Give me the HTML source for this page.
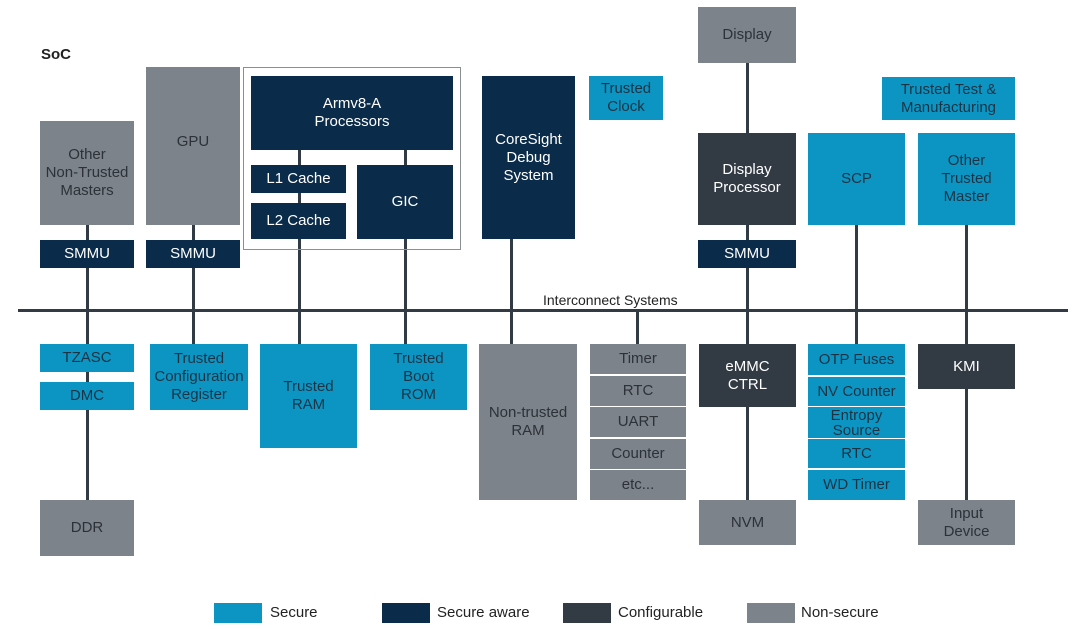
<!DOCTYPE html>
<html><head><meta charset="utf-8"><style>
body{margin:0;width:1074px;height:629px;background:#fff;position:relative;overflow:hidden;font-family:"Liberation Sans",sans-serif}
.b{position:absolute;display:flex;align-items:center;justify-content:center;text-align:center;font-size:15px;line-height:18px;box-sizing:border-box}
.s{background:#0c95c3;color:#1d3344}
.a{background:#0a2b49;color:#fff}
.c{background:#323a44;color:#fff}
.n{background:#7c838a;color:#2c3238}
.v{position:absolute;width:3px;background:#323a44}
.t{position:absolute;font-size:15px;color:#222}
</style></head><body>
<div class="t" style="left:41px;top:46px;font-weight:bold;font-size:15px">SoC</div>
<div class="v" style="left:86px;top:225px;height:275px"></div>
<div class="v" style="left:192px;top:225px;height:119px"></div>
<div class="v" style="left:298px;top:150px;height:194px"></div>
<div class="v" style="left:404px;top:150px;height:194px"></div>
<div class="v" style="left:510px;top:239px;height:105px"></div>
<div class="v" style="left:636px;top:311px;height:33px"></div>
<div class="v" style="left:746px;top:63px;height:437px"></div>
<div class="v" style="left:855px;top:225px;height:119px"></div>
<div class="v" style="left:965px;top:225px;height:275px"></div>
<div style="position:absolute;left:18px;top:309px;width:1050px;height:3px;background:#323a44"></div>
<div class="t" style="left:543px;top:292px;font-size:14px">Interconnect Systems</div>
<div class="b n" style="left:40px;top:121px;width:94px;height:104px">Other<br>Non-Trusted<br>Masters</div>
<div class="b a" style="left:40px;top:240px;width:94px;height:28px">SMMU</div>
<div class="b n" style="left:146px;top:67px;width:94px;height:158px;align-items:flex-start;padding-top:66px">GPU</div>
<div class="b a" style="left:146px;top:240px;width:94px;height:28px">SMMU</div>
<div style="position:absolute;left:243px;top:67px;width:218px;height:183px;border:1.5px solid #8a8f94;box-sizing:border-box"></div>
<div class="b a" style="left:251px;top:76px;width:202px;height:74px">Armv8-A<br>Processors</div>
<div class="b a" style="left:251px;top:165px;width:95px;height:28px">L1 Cache</div>
<div class="b a" style="left:251px;top:203px;width:95px;height:36px">L2 Cache</div>
<div class="b a" style="left:357px;top:165px;width:96px;height:74px">GIC</div>
<div class="b a" style="left:482px;top:76px;width:93px;height:163px">CoreSight<br>Debug<br>System</div>
<div class="b s" style="left:589px;top:76px;width:74px;height:44px">Trusted<br>Clock</div>
<div class="b n" style="left:698px;top:7px;width:98px;height:56px">Display</div>
<div class="b c" style="left:698px;top:133px;width:98px;height:92px">Display<br>Processor</div>
<div class="b a" style="left:698px;top:240px;width:98px;height:28px">SMMU</div>
<div class="b s" style="left:882px;top:77px;width:133px;height:43px">Trusted Test &amp;<br>Manufacturing</div>
<div class="b s" style="left:808px;top:133px;width:97px;height:92px">SCP</div>
<div class="b s" style="left:918px;top:133px;width:97px;height:92px">Other<br>Trusted<br>Master</div>
<div class="b s" style="left:40px;top:344px;width:94px;height:28px">TZASC</div>
<div class="b s" style="left:40px;top:382px;width:94px;height:28px">DMC</div>
<div class="b n" style="left:40px;top:500px;width:94px;height:56px">DDR</div>
<div class="b s" style="left:150px;top:344px;width:98px;height:66px">Trusted<br>Configuration<br>Register</div>
<div class="b s" style="left:260px;top:344px;width:97px;height:104px">Trusted<br>RAM</div>
<div class="b s" style="left:370px;top:344px;width:97px;height:66px">Trusted<br>Boot<br>ROM</div>
<div class="b n" style="left:479px;top:344px;width:98px;height:156px">Non-trusted<br>RAM</div>
<div class="b n" style="left:590px;top:344px;width:96px;height:30px">Timer</div>
<div class="b n" style="left:590px;top:376px;width:96px;height:30px">RTC</div>
<div class="b n" style="left:590px;top:407px;width:96px;height:30px">UART</div>
<div class="b n" style="left:590px;top:439px;width:96px;height:30px">Counter</div>
<div class="b n" style="left:590px;top:470px;width:96px;height:30px">etc...</div>
<div class="b c" style="left:699px;top:344px;width:97px;height:63px">eMMC<br>CTRL</div>
<div class="b n" style="left:699px;top:500px;width:97px;height:45px">NVM</div>
<div class="b s" style="left:808px;top:344px;width:97px;height:31px">OTP Fuses</div>
<div class="b s" style="left:808px;top:377px;width:97px;height:29px">NV Counter</div>
<div class="b s" style="left:808px;top:407px;width:97px;height:31px;line-height:15px">Entropy<br>Source</div>
<div class="b s" style="left:808px;top:439px;width:97px;height:29px">RTC</div>
<div class="b s" style="left:808px;top:470px;width:97px;height:30px">WD Timer</div>
<div class="b c" style="left:918px;top:344px;width:97px;height:45px">KMI</div>
<div class="b n" style="left:918px;top:500px;width:97px;height:45px">Input<br>Device</div>
<div class="b s" style="left:214px;top:603px;width:48px;height:20px"></div>
<div class="t" style="left:270px;top:604px">Secure</div>
<div class="b a" style="left:382px;top:603px;width:48px;height:20px"></div>
<div class="t" style="left:437px;top:604px">Secure aware</div>
<div class="b c" style="left:563px;top:603px;width:48px;height:20px"></div>
<div class="t" style="left:618px;top:604px">Configurable</div>
<div class="b n" style="left:747px;top:603px;width:48px;height:20px"></div>
<div class="t" style="left:801px;top:604px">Non-secure</div>
</body></html>
